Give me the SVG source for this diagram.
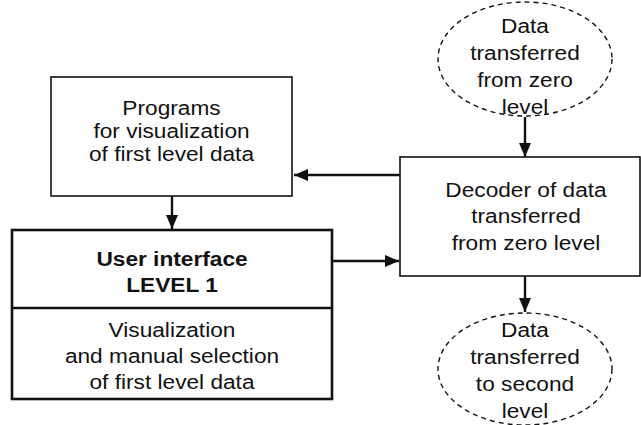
<svg xmlns="http://www.w3.org/2000/svg" width="641" height="425" viewBox="0 0 641 425">
<style>
  text { font-family: "Liberation Sans", Arial, sans-serif; font-size: 21px; fill: #111; text-anchor: middle; }
  .b { font-weight: bold; }
  .box { fill: #fff; stroke: #111; stroke-width: 1.6; }
  .thick { fill: #fff; stroke: #111; stroke-width: 2.6; }
  .ell { fill: #fff; stroke: #111; stroke-width: 1.4; stroke-dasharray: 5 4; }
  .conn line { stroke: #111; stroke-width: 2.4; marker-end: url(#ah); }
</style>
<defs>
  <marker id="ah" markerUnits="userSpaceOnUse" markerWidth="14" markerHeight="12" refX="14" refY="6" orient="auto">
    <path d="M0,0 L14,6 L0,12 z" fill="#111"/>
  </marker>
</defs>
<rect width="641" height="425" fill="#fff"/>

<g id="programs">
  <rect class="box" x="51" y="77" width="241" height="119"/>
  <g transform="translate(171.5 0) scale(1.08 1)">
    <text x="0" y="115">Programs</text>
    <text x="0" y="138">for visualization</text>
    <text x="0" y="161">of first level data</text>
  </g>
</g>

<g id="user-interface">
  <rect class="thick" x="12" y="230" width="320" height="169"/>
  <line x1="12" y1="308" x2="332" y2="308" stroke="#111" stroke-width="2.6"/>
  <g transform="translate(172 0) scale(1.08 1)">
    <text class="b" x="0" y="266">User interface</text>
    <text class="b" x="0" y="292">LEVEL 1</text>
    <text x="0" y="337">Visualization</text>
    <text x="0" y="363">and manual selection</text>
    <text x="0" y="389">of first level data</text>
  </g>
</g>

<g id="decoder">
  <rect class="box" x="400" y="157" width="240" height="119"/>
  <g transform="translate(526 0) scale(1.08 1)">
    <text x="0" y="197">Decoder of data</text>
    <text x="0" y="223">transferred</text>
    <text x="0" y="250">from zero level</text>
  </g>
</g>

<g id="data-from-zero">
  <ellipse class="ell" cx="525" cy="59" rx="87" ry="57"/>
  <g transform="translate(525 0) scale(1.08 1)">
    <text x="0" y="33">Data</text>
    <text x="0" y="60">transferred</text>
    <text x="0" y="87">from zero</text>
    <text x="0" y="114">level</text>
  </g>
</g>

<g id="data-to-second">
  <ellipse class="ell" cx="525" cy="369" rx="87" ry="56"/>
  <g transform="translate(525 0) scale(1.08 1)">
    <text x="0" y="337">Data</text>
    <text x="0" y="364">transferred</text>
    <text x="0" y="391">to second</text>
    <text x="0" y="418">level</text>
  </g>
</g>

<g id="connectors" class="conn">
  <line x1="525" y1="117" x2="525" y2="157"/>
  <line x1="400" y1="175" x2="294" y2="175"/>
  <line x1="172" y1="196" x2="172" y2="229"/>
  <line x1="332" y1="261" x2="399" y2="261"/>
  <line x1="525" y1="276" x2="525" y2="312"/>
</g>
</svg>
